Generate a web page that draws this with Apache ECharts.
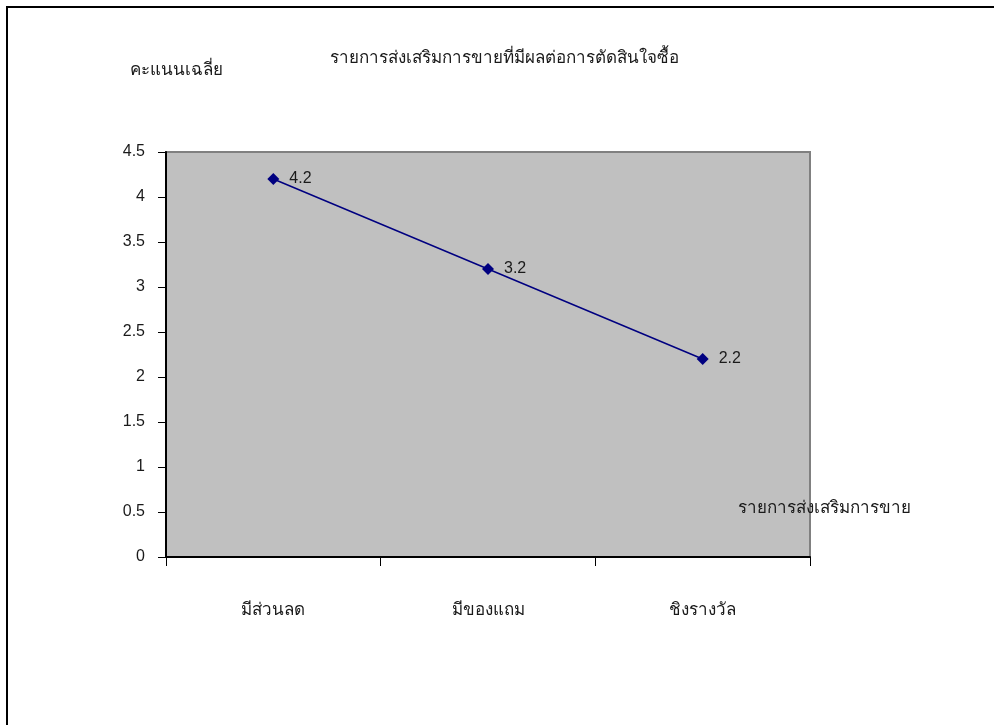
<!DOCTYPE html>
<html>
<head>
<meta charset="utf-8">
<script src="https://cdn.jsdelivr.net/npm/echarts@6/dist/echarts.min.js"></script>
<style>
  html, body { margin: 0; padding: 0; background: #fff; }
  #chart { width: 994px; height: 725px; }
</style>
</head>
<body>
<div id="chart"></div>
<script>
// Sales promotion items and their average scores
const categories = ['มีส่วนลด', 'มีของแถม', 'ชิงรางวัล'];
const scores = [4.2, 3.2, 2.2];
const titleText = 'รายการส่งเสริมการขายที่มีผลต่อการตัดสินใจซื้อ';
const yAxisName = 'คะแนนเฉลี่ย';
const xAxisName = 'รายการส่งเสริมการขาย';

const FONT = '"Liberation Sans", Arial, "Noto Sans", sans-serif';
const TEXT = '#1a1a1a';
const chart = echarts.init(document.getElementById('chart'), null, { renderer: 'canvas' });

chart.setOption({
  backgroundColor: '#ffffff',
  animation: false,
  title: {
    text: titleText,
    left: 330,
    top: 50,
    padding: 0,
    textStyle: { fontFamily: FONT, fontSize: 17, fontWeight: 'normal', color: TEXT }
  },
  graphic: [
    // outer frame: top and left edges
    { type: 'line', shape: { x1: 6, y1: 7, x2: 994, y2: 7 }, style: { stroke: '#000', lineWidth: 2 } },
    { type: 'line', shape: { x1: 7, y1: 6, x2: 7, y2: 725 }, style: { stroke: '#000', lineWidth: 2 } },
    { type: 'text', left: 130, top: 62, style: { text: yAxisName, font: '17px ' + FONT, fill: TEXT } },
    { type: 'text', left: 738, top: 500, style: { text: xAxisName, font: '17px ' + FONT, fill: TEXT } }
  ],
  grid: {
    left: 166, right: 184, top: 152, bottom: 168,
    show: true,
    backgroundColor: '#c0c0c0',
    borderColor: '#808080',
    borderWidth: 2
  },
  xAxis: {
    type: 'category',
    data: categories,
    boundaryGap: true,
    axisLine: { lineStyle: { color: '#000', width: 2 } },
    axisTick: { show: true, length: 9, lineStyle: { color: '#000', width: 1 } },
    axisLabel: { margin: 45, fontFamily: FONT, fontSize: 17, color: TEXT },
    splitLine: { show: false }
  },
  yAxis: {
    type: 'value',
    min: 0, max: 4.5, interval: 0.5,
    axisLine: { show: true, lineStyle: { color: '#000', width: 2 } },
    axisTick: { show: true, length: 8, lineStyle: { color: '#000', width: 1 } },
    axisLabel: { margin: 21, fontFamily: FONT, fontSize: 16, color: TEXT },
    splitLine: { show: false }
  },
  series: [{
    type: 'line',
    data: scores,
    symbol: 'diamond',
    symbolSize: 12,
    itemStyle: { color: '#000080' },
    lineStyle: { color: '#000080', width: 1.5 },
    label: {
      show: true,
      position: 'right',
      distance: 10,
      fontFamily: FONT,
      fontSize: 16,
      color: TEXT
    }
  }]
});
</script>
</body>
</html>
